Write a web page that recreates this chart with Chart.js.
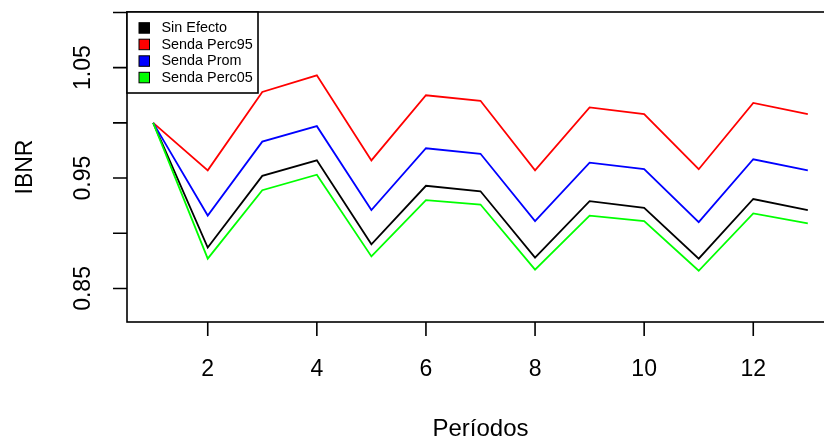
<!DOCTYPE html>
<html>
<head>
<meta charset="utf-8">
<script src="https://cdn.jsdelivr.net/npm/chart.js@4"></script>
<style>
  html, body { margin: 0; padding: 0; background: #fff; overflow: hidden; }
  #wrap { width: 824px; height: 440px; overflow: hidden; }
  canvas { display: block; }
</style>
</head>
<body>
<div id="wrap"><canvas id="c" width="850" height="440" style="width:850px;height:440px"></canvas></div>
<script>
// Periods and IBNR development paths
const periods = [1, 2, 3, 4, 5, 6, 7, 8, 9, 10, 11, 12, 13];
const sinEfecto   = [1.000, 0.887, 0.952, 0.966, 0.890, 0.943, 0.938, 0.878, 0.929, 0.923, 0.877, 0.931, 0.921];
const sendaPerc95 = [1.000, 0.957, 1.028, 1.043, 0.966, 1.025, 1.020, 0.957, 1.014, 1.008, 0.958, 1.018, 1.008];
const sendaProm   = [1.000, 0.916, 0.983, 0.997, 0.921, 0.977, 0.972, 0.911, 0.964, 0.958, 0.910, 0.967, 0.957];
const sendaPerc05 = [1.000, 0.877, 0.939, 0.953, 0.879, 0.930, 0.926, 0.867, 0.916, 0.911, 0.866, 0.918, 0.909];

const seriesNames  = ["Sin Efecto", "Senda Perc95", "Senda Prom", "Senda Perc05"];
const seriesColors = ["#000000", "#ff0000", "#0000ff", "#00ff00"];

const xTicks = [2, 4, 6, 8, 10, 12];
const xTickLabels = ["2", "4", "6", "8", "10", "12"];
const yTicks = [0.85, 0.90, 0.95, 1.00, 1.05, 1.10];
const yTickLabels = ["0.85", "", "0.95", "", "1.05", ""];

const xLimits = [1, 13];
const yLimits = [0.83, 1.09];
const xTitle = "Períodos";
const yTitle = "IBNR";

const FONT = '"Liberation Sans", Arial, Helvetica, sans-serif';

// base-graphics style 4% range extension
function extend(lim) {
  const d = (lim[1] - lim[0]) * 0.04;
  return [lim[0] - d, lim[1] + d];
}
const xr = extend(xLimits);
const yr = extend(yLimits);

const valueSets = [sinEfecto, sendaPerc95, sendaProm, sendaPerc05];
const datasets = valueSets.map((vals, i) => ({
  label: seriesNames[i],
  data: periods.map((p, k) => ({ x: p, y: vals[k] })),
  borderColor: seriesColors[i],
  backgroundColor: seriesColors[i],
  borderWidth: 1.8,
  pointRadius: 0,
  tension: 0,
  fill: false,
  order: valueSets.length - 1 - i
}));

// frame, ticks, labels and legend in base-graphics style
const framePlugin = {
  id: 'frame',
  afterDraw(chart) {
    const ctx = chart.ctx;
    const a = chart.chartArea;
    const xs = chart.scales.x, ys = chart.scales.y;
    const tick = 14;
    ctx.save();
    ctx.strokeStyle = '#000';
    ctx.lineWidth = 1.6;
    ctx.strokeRect(a.left, a.top, a.right - a.left, a.bottom - a.top);

    // x axis ticks
    ctx.beginPath();
    xTicks.forEach(v => {
      const px = xs.getPixelForValue(v);
      ctx.moveTo(px, a.bottom);
      ctx.lineTo(px, a.bottom + tick);
    });
    // y axis ticks
    yTicks.forEach(v => {
      const py = ys.getPixelForValue(v);
      ctx.moveTo(a.left, py);
      ctx.lineTo(a.left - tick, py);
    });
    ctx.stroke();

    ctx.fillStyle = '#000';
    ctx.font = '23px ' + FONT;
    ctx.textAlign = 'center';
    ctx.textBaseline = 'alphabetic';
    xTicks.forEach((v, i) => {
      ctx.fillText(xTickLabels[i], xs.getPixelForValue(v), 375.5);
    });
    yTicks.forEach((v, i) => {
      if (!yTickLabels[i]) return;
      ctx.save();
      ctx.translate(90, ys.getPixelForValue(v));
      ctx.rotate(-Math.PI / 2);
      ctx.fillText(yTickLabels[i], 0, 0);
      ctx.restore();
    });

    // axis titles
    ctx.font = '24px ' + FONT;
    ctx.fillText(xTitle, (a.left + a.right) / 2, 436);
    ctx.save();
    ctx.font = '23px ' + FONT;
    ctx.translate(31.5, (a.top + a.bottom) / 2);
    ctx.rotate(-Math.PI / 2);
    ctx.fillText(yTitle, 0, 0);
    ctx.restore();

    // legend
    const lx = a.left, ly = a.top, lw = 131, lh = 81;
    ctx.fillStyle = '#fff';
    ctx.fillRect(lx, ly, lw, lh);
    ctx.strokeRect(lx, ly, lw, lh);
    ctx.font = '14.4px ' + FONT;
    ctx.textAlign = 'left';
    ctx.textBaseline = 'middle';
    const rowY = [27.7, 44.2, 60.8, 77.3];
    seriesNames.forEach((name, i) => {
      ctx.fillStyle = seriesColors[i];
      ctx.lineWidth = 1;
      ctx.fillRect(139, rowY[i] - 5, 10.5, 10.5);
      ctx.strokeRect(139, rowY[i] - 5, 10.5, 10.5);
      ctx.fillStyle = '#000';
      ctx.fillText(name, 161.5, rowY[i] + 0.5);
    });
    ctx.restore();
  }
};

new Chart(document.getElementById('c'), {
  type: 'line',
  data: { datasets },
  options: {
    responsive: false,
    animation: false,
    devicePixelRatio: 1,
    layout: { padding: { left: 127, top: 12, right: 16, bottom: 118 } },
    plugins: { legend: { display: false }, tooltip: { enabled: false } },
    scales: {
      x: { type: 'linear', min: xr[0], max: xr[1], display: false },
      y: { type: 'linear', min: yr[0], max: yr[1], display: false }
    }
  },
  plugins: [framePlugin]
});
</script>
</body>
</html>
